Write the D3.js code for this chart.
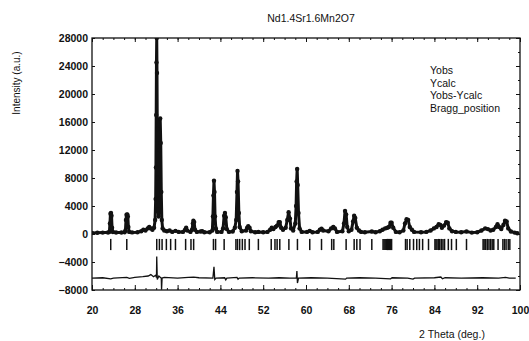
<!DOCTYPE html>
<html>
<head>
<meta charset="utf-8">
<script src="https://cdn.jsdelivr.net/npm/d3@7"></script>
<style>
  body { margin: 0; background: #fff; }
  svg text { font-family: "Liberation Sans", Arial, sans-serif; fill: #111; }
</style>
</head>
<body>
<div id="chart"></div>
<script>
// observed / calculated profile, [2theta, intensity]
const yObs = [
  [20.0,150],[21.0,180],[22.0,200],[23.0,220],
  [23.25,300],[23.35,1500],[23.45,2900],[23.55,3000],[23.65,2600],[23.75,900],[23.9,280],
  [24.5,220],[25.5,220],[26.1,260],
  [26.25,500],[26.35,2000],[26.45,2750],[26.6,2800],[26.7,2500],[26.8,1000],[26.95,300],
  [27.5,230],[28.5,250],[29.2,400],[29.6,600],[30.0,500],[30.4,800],[30.7,1000],[31.0,800],[31.3,600],[31.6,900],[31.8,2000],
  [31.9,5000],[31.95,9500],[32.0,17000],[32.05,24500],[32.1,28000],[32.15,23000],[32.2,15000],[32.25,8000],[32.35,3500],[32.45,2500],
  [32.55,5000],[32.65,12000],[32.75,16500],[32.85,13000],[32.95,6000],[33.05,2000],[33.2,800],[33.5,500],
  [34.0,400],[34.5,500],[35.0,300],[35.6,450],[36.2,300],[37.0,300],[37.4,600],[37.6,900],[37.8,500],
  [38.4,300],[38.7,600],[38.85,1500],[38.95,1900],[39.1,1700],[39.25,600],[39.6,300],[40.3,350],[40.6,400],[41.0,250],[42.0,250],[42.5,500],
  [42.6,2500],[42.7,5500],[42.8,7600],[42.9,6000],[43.0,2500],[43.15,800],[43.4,300],
  [44.2,300],[44.5,800],[44.7,2600],[44.85,3000],[45.0,2400],[45.2,700],[45.6,300],
  [46.3,350],[46.7,900],[46.95,2000],[47.1,6000],[47.2,9000],[47.3,7500],[47.45,3000],[47.6,1000],[48.0,400],
  [48.8,500],[49.0,900],[49.2,1100],[49.45,900],[49.7,400],[50.5,250],[51.1,300],[52.0,250],
  [52.8,300],[53.3,600],[53.6,900],[53.9,700],[54.3,1000],[54.6,1200],[54.9,1700],[55.1,1700],[55.35,900],[55.7,600],
  [56.2,900],[56.5,2000],[56.75,3100],[57.0,2200],[57.2,800],[57.6,500],
  [58.0,1500],[58.15,4000],[58.25,7500],[58.35,9300],[58.45,7000],[58.6,3000],[58.8,800],[59.2,300],
  [60.2,300],[60.7,450],[61.2,250],[62.2,300],[62.6,600],[62.9,750],[63.2,500],[64.2,400],[64.7,800],[65.1,1000],[65.4,800],[65.8,300],
  [66.8,400],[67.1,1500],[67.3,3300],[67.5,2800],[67.7,1000],[68.0,400],[68.5,600],[68.8,1800],[69.0,2600],[69.2,2300],[69.5,900],[69.9,500],
  [70.3,300],[71.0,250],[72.3,350],[73.0,250],[73.8,400],[74.3,600],[74.8,800],[75.2,900],[75.5,1000],[75.8,1600],[76.0,1600],[76.3,900],[76.8,300],
  [77.5,250],[78.2,500],[78.5,1500],[78.8,2100],[79.1,2000],[79.4,1000],[79.8,600],[80.2,300],[81.5,250],[82.5,300],
  [83.3,500],[83.9,800],[84.4,1000],[84.8,1400],[85.1,1300],[85.4,900],[85.8,1200],[86.2,1700],[86.5,1600],[86.8,800],[87.3,400],
  [88.0,300],[89.0,250],[90.0,350],[91.0,200],[92.0,250],[92.8,500],[93.5,800],[94.0,700],[94.5,500],[95.0,600],[95.5,1000],[95.8,1400],[96.1,1000],
  [96.5,700],[96.9,1300],[97.2,1900],[97.5,1800],[97.8,800],[98.3,350],[99.0,200],[99.5,100]
];

// Yobs - Ycalc, shifted down
const yDiff = [
  [20.0,-6300],[22.0,-6250],[23.5,-6400],[24.0,-6300],[26.5,-6200],[27.0,-6350],[28.0,-6200],[29.5,-6100],[30.5,-6000],[31.0,-5800],
  [31.5,-6100],[31.9,-5900],[32.05,-6200],[32.1,-3200],[32.2,-6500],[32.5,-6000],[32.8,-6200],[32.95,-6300],[33.0,-7950],[33.1,-6300],
  [33.5,-6200],[36.0,-6300],[38.0,-6200],[39.0,-6150],[40.0,-6250],[42.6,-6300],[42.8,-4700],[42.95,-6500],[43.2,-6300],
  [44.8,-6250],[45.0,-6550],[45.2,-6300],[47.1,-6200],[47.3,-6450],[47.5,-6300],[50.0,-6250],[53.0,-6300],[55.0,-6250],[57.0,-6300],
  [58.2,-6300],[58.3,-5300],[58.4,-7000],[58.6,-6300],[61.0,-6250],[64.0,-6300],[67.4,-6450],[67.6,-6300],[70.0,-6250],[73.0,-6300],
  [75.8,-6400],[76.1,-6250],[79.0,-6300],[80.0,-6450],[80.3,-6300],[84.0,-6250],[85.2,-6150],[85.5,-6400],[86.0,-6250],[89.0,-6300],
  [93.0,-6250],[96.0,-6300],[97.3,-6200],[98.0,-6300],[99.2,-6300]
];

// Bragg reflection positions (2theta)
const braggPos = [
  23.5, 26.5, 32.1, 32.6, 33.1, 33.9, 34.7, 35.6, 37.5, 38.5, 39.0, 42.7, 43.1, 44.7,
  46.9, 47.2, 47.6, 48.1, 48.6, 49.4, 51.1, 53.5, 54.2, 54.6, 55.1, 56.8, 58.4, 60.7,
  62.9, 64.8, 65.2, 67.5, 69.0, 69.5, 70.1, 72.3,
  74.4, 74.6, 74.8, 75.0, 75.2, 75.4, 75.6, 75.8, 76.0,
  78.6, 78.9, 79.4, 80.1, 80.7, 81.2, 81.8, 82.9,
  84.1, 84.3, 84.5, 84.8, 85.0, 85.3, 85.6, 85.9, 86.6, 87.2, 88.1, 90.0,
  93.1, 93.3, 93.6, 93.9, 94.2, 94.5, 94.8, 95.1, 95.9, 96.8, 97.1, 97.4, 97.8, 98.1
];
const braggBand = [-700, -2300];

const xTicks = [20, 28, 36, 44, 52, 60, 68, 76, 84, 92, 100];
const yTicks = [-8000, -4000, 0, 4000, 8000, 12000, 16000, 20000, 24000, 28000];
const legendLabels = ["Yobs", "Ycalc", "Yobs-Ycalc", "Bragg_position"];

const W = 529, H = 341;
const margin = { top: 38, right: 9, bottom: 51, left: 92 };
const width = W - margin.left - margin.right;
const height = H - margin.top - margin.bottom;

const svg = d3.select('#chart').append('svg')
  .attr('width', W).attr('height', H);

const g = svg.append('g')
  .attr('transform', `translate(${margin.left},${margin.top})`);

const x = d3.scaleLinear().domain([20, 100]).range([0, width]);
const y = d3.scaleLinear().domain([-8000, 28000]).range([height, 0]);

g.append('defs').append('clipPath').attr('id', 'clip')
  .append('rect').attr('width', width).attr('height', height);

const plot = g.append('g').attr('clip-path', 'url(#clip)');

// Bragg ticks
plot.selectAll('line.bragg')
  .data(braggPos)
  .join('line')
    .attr('class', 'bragg')
    .attr('x1', d => x(d)).attr('x2', d => x(d))
    .attr('y1', y(braggBand[0])).attr('y2', y(braggBand[1]))
    .attr('stroke', '#111')
    .attr('stroke-width', 1.5);

// difference curve
plot.append('path')
  .datum(yDiff)
  .attr('fill', 'none')
  .attr('stroke', '#111')
  .attr('stroke-width', 1.3)
  .attr('d', d3.line().x(d => x(d[0])).y(d => y(d[1])));

// calculated line
plot.append('path')
  .datum(yObs)
  .attr('fill', 'none')
  .attr('stroke', '#111')
  .attr('stroke-width', 3)
  .attr('stroke-linejoin', 'round')
  .attr('d', d3.line().x(d => x(d[0])).y(d => y(d[1])));

// observed points
plot.selectAll('circle.obs')
  .data(yObs)
  .join('circle')
    .attr('class', 'obs')
    .attr('cx', d => x(d[0]))
    .attr('cy', d => y(d[1]))
    .attr('r', 2.2)
    .attr('fill', '#111');

// axes (ticks pointing inward)
const tickStyle = sel => {
  sel.select('.domain').remove();
  sel.selectAll('line').attr('stroke', '#111').attr('stroke-width', 1);
};

g.append('g')
  .attr('transform', `translate(0,${height})`)
  .call(d3.axisBottom(x).tickValues(d3.range(20, 101, 2)).tickSize(-2).tickFormat(''))
  .call(tickStyle);
g.append('g')
  .attr('transform', `translate(0,${height})`)
  .call(d3.axisBottom(x).tickValues(xTicks).tickSize(-5).tickPadding(17).tickFormat(d3.format('d')))
  .call(tickStyle)
  .selectAll('text')
    .style('font-size', '10.5px').style('font-weight', 'bold').attr('fill', '#111');

g.append('g')
  .call(d3.axisTop(x).tickValues(d3.range(20, 101, 2)).tickSize(-2).tickFormat(''))
  .call(tickStyle);
g.append('g')
  .call(d3.axisTop(x).tickValues(xTicks).tickSize(-4).tickFormat(''))
  .call(tickStyle);

g.append('g')
  .call(d3.axisLeft(y).tickValues(yTicks).tickSize(-3).tickPadding(4).tickFormat(d3.format('d')))
  .call(tickStyle)
  .selectAll('text')
    .style('font-size', '10.5px').style('font-weight', 'bold').attr('fill', '#111');

g.append('g')
  .attr('transform', `translate(${width},0)`)
  .call(d3.axisRight(y).tickValues(yTicks).tickSize(-4).tickFormat(''))
  .call(tickStyle);
g.append('g')
  .attr('transform', `translate(${width},0)`)
  .call(d3.axisRight(y).tickValues(d3.range(-8000, 28001, 2000)).tickSize(-2).tickFormat(''))
  .call(tickStyle);

// frame
g.append('rect')
  .attr('width', width).attr('height', height)
  .attr('fill', 'none').attr('stroke', '#111').attr('stroke-width', 1.3);

// legend (text only)
g.selectAll('text.legend')
  .data(legendLabels)
  .join('text')
    .attr('class', 'legend')
    .attr('x', 430 - margin.left)
    .attr('y', (d, i) => 74 - margin.top + i * 12.5)
    .style('font-size', '10.5px')
    .text(d => d);

// title and axis labels
svg.append('text')
  .attr('x', 311).attr('y', 22)
  .attr('text-anchor', 'middle')
  .style('font-size', '10.5px')
  .text('Nd1.4Sr1.6Mn2O7');

svg.append('text')
  .attr('transform', 'translate(20,83) rotate(-90)')
  .attr('text-anchor', 'middle')
  .style('font-size', '10px')
  .text('Intensity (a.u.)');

svg.append('text')
  .attr('x', 452).attr('y', 338)
  .attr('text-anchor', 'middle')
  .style('font-size', '10.5px')
  .text('2 Theta (deg.)');
</script>
</body>
</html>
